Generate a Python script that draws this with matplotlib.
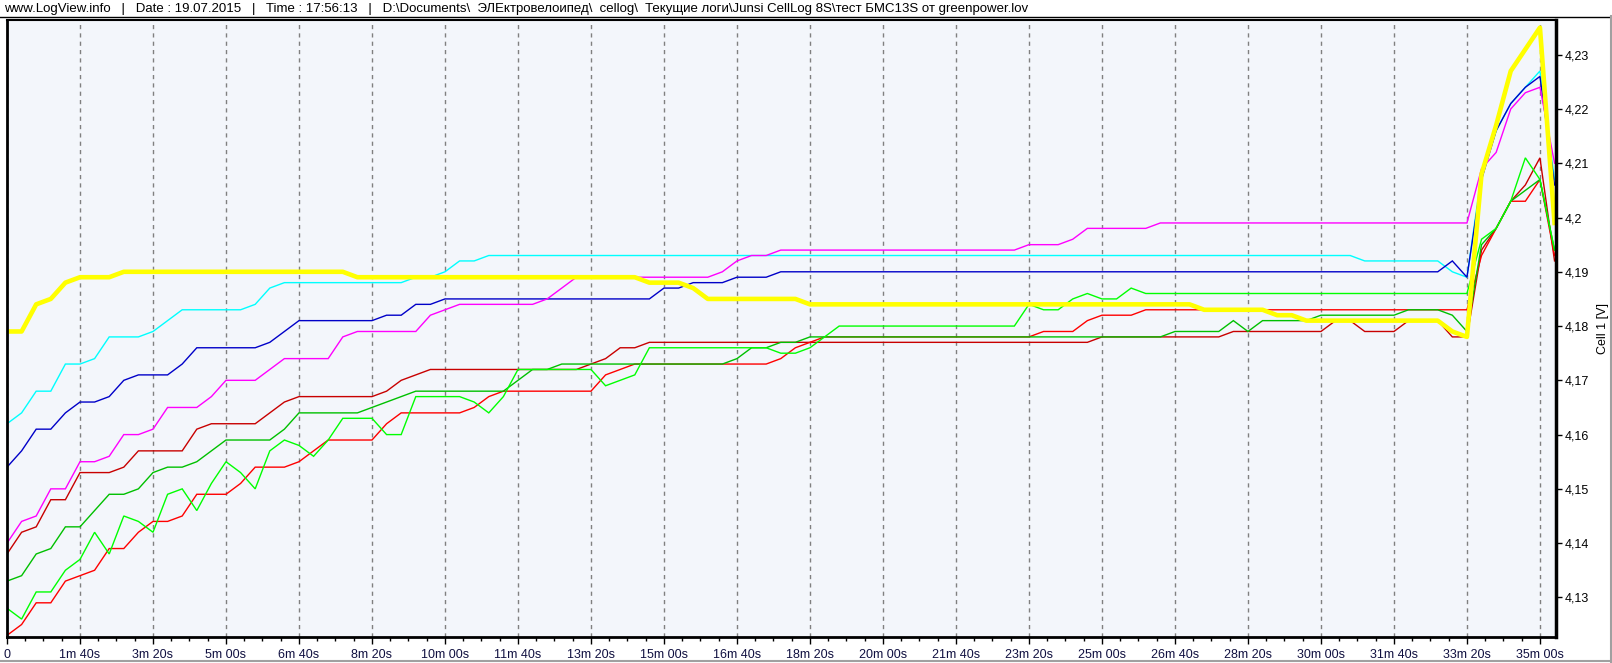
"""
LogView export: Junsi CellLog 8S, 8 cell voltages over ~35 min
"""

import matplotlib
matplotlib.use('Agg')
import matplotlib.pyplot as plt
from matplotlib.ticker import MultipleLocator, FuncFormatter
from matplotlib.lines import Line2D

plt.rcParams['font.family'] = ['Liberation Sans', 'DejaVu Sans']

# Sample times in seconds (logger wrote one row every 20 s)
TIMES = [0, 20, 40, 60, 80, 100, 120, 140, 160, 180,
         200, 220, 240, 260, 280, 300, 320, 340, 360, 380,
         400, 420, 440, 460, 480, 500, 520, 540, 560, 580,
         600, 620, 640, 660, 680, 700, 720, 740, 760, 780,
         800, 820, 840, 860, 880, 900, 920, 940, 960, 980,
         1000, 1020, 1040, 1060, 1080, 1100, 1120, 1140, 1160, 1180,
         1200, 1220, 1240, 1260, 1280, 1300, 1320, 1340, 1360, 1380,
         1400, 1420, 1440, 1460, 1480, 1500, 1520, 1540, 1560, 1580,
         1600, 1620, 1640, 1660, 1680, 1700, 1720, 1740, 1760, 1780,
         1800, 1820, 1840, 1860, 1880, 1900, 1920, 1940, 1960, 1980,
         2000, 2020, 2040, 2060, 2080, 2100, 2120]

# Cell voltages [V]
yellow = [4.179, 4.179, 4.184, 4.185, 4.188, 4.189, 4.189, 4.189, 4.190, 4.190,
          4.190, 4.190, 4.190, 4.190, 4.190, 4.190, 4.190, 4.190, 4.190, 4.190,
          4.190, 4.190, 4.190, 4.190, 4.189, 4.189, 4.189, 4.189, 4.189, 4.189,
          4.189, 4.189, 4.189, 4.189, 4.189, 4.189, 4.189, 4.189, 4.189, 4.189,
          4.189, 4.189, 4.189, 4.189, 4.188, 4.188, 4.188, 4.187, 4.185, 4.185,
          4.185, 4.185, 4.185, 4.185, 4.185, 4.184, 4.184, 4.184, 4.184, 4.184,
          4.184, 4.184, 4.184, 4.184, 4.184, 4.184, 4.184, 4.184, 4.184, 4.184,
          4.184, 4.184, 4.184, 4.184, 4.184, 4.184, 4.184, 4.184, 4.184, 4.184,
          4.184, 4.184, 4.183, 4.183, 4.183, 4.183, 4.183, 4.182, 4.182, 4.181,
          4.181, 4.181, 4.181, 4.181, 4.181, 4.181, 4.181, 4.181, 4.181, 4.179,
          4.178, 4.208, 4.217, 4.227, 4.231, 4.235, 4.199]

cyan = [4.162, 4.164, 4.168, 4.168, 4.173, 4.173, 4.174, 4.178, 4.178, 4.178,
        4.179, 4.181, 4.183, 4.183, 4.183, 4.183, 4.183, 4.184, 4.187, 4.188,
        4.188, 4.188, 4.188, 4.188, 4.188, 4.188, 4.188, 4.188, 4.189, 4.189,
        4.190, 4.192, 4.192, 4.193, 4.193, 4.193, 4.193, 4.193, 4.193, 4.193,
        4.193, 4.193, 4.193, 4.193, 4.193, 4.193, 4.193, 4.193, 4.193, 4.193,
        4.193, 4.193, 4.193, 4.193, 4.193, 4.193, 4.193, 4.193, 4.193, 4.193,
        4.193, 4.193, 4.193, 4.193, 4.193, 4.193, 4.193, 4.193, 4.193, 4.193,
        4.193, 4.193, 4.193, 4.193, 4.193, 4.193, 4.193, 4.193, 4.193, 4.193,
        4.193, 4.193, 4.193, 4.193, 4.193, 4.193, 4.193, 4.193, 4.193, 4.193,
        4.193, 4.193, 4.193, 4.192, 4.192, 4.192, 4.192, 4.192, 4.192, 4.190,
        4.189, 4.208, 4.216, 4.221, 4.224, 4.227, 4.207]

blue = [4.154, 4.157, 4.161, 4.161, 4.164, 4.166, 4.166, 4.167, 4.170, 4.171,
        4.171, 4.171, 4.173, 4.176, 4.176, 4.176, 4.176, 4.176, 4.177, 4.179,
        4.181, 4.181, 4.181, 4.181, 4.181, 4.181, 4.182, 4.182, 4.184, 4.184,
        4.185, 4.185, 4.185, 4.185, 4.185, 4.185, 4.185, 4.185, 4.185, 4.185,
        4.185, 4.185, 4.185, 4.185, 4.185, 4.187, 4.187, 4.188, 4.188, 4.188,
        4.189, 4.189, 4.189, 4.190, 4.190, 4.190, 4.190, 4.190, 4.190, 4.190,
        4.190, 4.190, 4.190, 4.190, 4.190, 4.190, 4.190, 4.190, 4.190, 4.190,
        4.190, 4.190, 4.190, 4.190, 4.190, 4.190, 4.190, 4.190, 4.190, 4.190,
        4.190, 4.190, 4.190, 4.190, 4.190, 4.190, 4.190, 4.190, 4.190, 4.190,
        4.190, 4.190, 4.190, 4.190, 4.190, 4.190, 4.190, 4.190, 4.190, 4.192,
        4.189, 4.207, 4.216, 4.221, 4.224, 4.226, 4.206]

magenta = [4.140, 4.144, 4.145, 4.150, 4.150, 4.155, 4.155, 4.156, 4.160, 4.160,
           4.161, 4.165, 4.165, 4.165, 4.167, 4.170, 4.170, 4.170, 4.172, 4.174,
           4.174, 4.174, 4.174, 4.178, 4.179, 4.179, 4.179, 4.179, 4.179, 4.182,
           4.183, 4.184, 4.184, 4.184, 4.184, 4.184, 4.184, 4.185, 4.187, 4.189,
           4.189, 4.189, 4.189, 4.189, 4.189, 4.189, 4.189, 4.189, 4.189, 4.190,
           4.192, 4.193, 4.193, 4.194, 4.194, 4.194, 4.194, 4.194, 4.194, 4.194,
           4.194, 4.194, 4.194, 4.194, 4.194, 4.194, 4.194, 4.194, 4.194, 4.194,
           4.195, 4.195, 4.195, 4.196, 4.198, 4.198, 4.198, 4.198, 4.198, 4.199,
           4.199, 4.199, 4.199, 4.199, 4.199, 4.199, 4.199, 4.199, 4.199, 4.199,
           4.199, 4.199, 4.199, 4.199, 4.199, 4.199, 4.199, 4.199, 4.199, 4.199,
           4.199, 4.209, 4.212, 4.220, 4.223, 4.224, 4.210]

red_dark = [4.138, 4.142, 4.143, 4.148, 4.148, 4.153, 4.153, 4.153, 4.154, 4.157,
            4.157, 4.157, 4.157, 4.161, 4.162, 4.162, 4.162, 4.162, 4.164, 4.166,
            4.167, 4.167, 4.167, 4.167, 4.167, 4.167, 4.168, 4.170, 4.171, 4.172,
            4.172, 4.172, 4.172, 4.172, 4.172, 4.172, 4.172, 4.172, 4.172, 4.172,
            4.173, 4.174, 4.176, 4.176, 4.177, 4.177, 4.177, 4.177, 4.177, 4.177,
            4.177, 4.177, 4.177, 4.177, 4.177, 4.177, 4.177, 4.177, 4.177, 4.177,
            4.177, 4.177, 4.177, 4.177, 4.177, 4.177, 4.177, 4.177, 4.177, 4.177,
            4.177, 4.177, 4.177, 4.177, 4.177, 4.178, 4.178, 4.178, 4.178, 4.178,
            4.178, 4.178, 4.178, 4.178, 4.179, 4.179, 4.179, 4.179, 4.179, 4.179,
            4.179, 4.181, 4.181, 4.179, 4.179, 4.179, 4.181, 4.181, 4.181, 4.178,
            4.178, 4.194, 4.198, 4.203, 4.206, 4.211, 4.192]

red = [4.123, 4.125, 4.129, 4.129, 4.133, 4.134, 4.135, 4.139, 4.139, 4.142,
       4.144, 4.144, 4.145, 4.149, 4.149, 4.149, 4.151, 4.154, 4.154, 4.154,
       4.155, 4.157, 4.159, 4.159, 4.159, 4.159, 4.162, 4.164, 4.164, 4.164,
       4.164, 4.164, 4.165, 4.167, 4.168, 4.168, 4.168, 4.168, 4.168, 4.168,
       4.168, 4.171, 4.172, 4.173, 4.173, 4.173, 4.173, 4.173, 4.173, 4.173,
       4.173, 4.173, 4.173, 4.174, 4.176, 4.177, 4.178, 4.178, 4.178, 4.178,
       4.178, 4.178, 4.178, 4.178, 4.178, 4.178, 4.178, 4.178, 4.178, 4.178,
       4.178, 4.179, 4.179, 4.179, 4.181, 4.182, 4.182, 4.182, 4.183, 4.183,
       4.183, 4.183, 4.183, 4.183, 4.183, 4.183, 4.183, 4.183, 4.183, 4.183,
       4.183, 4.183, 4.183, 4.183, 4.183, 4.183, 4.183, 4.183, 4.183, 4.183,
       4.183, 4.193, 4.198, 4.203, 4.203, 4.207, 4.193]

green_dark = [4.133, 4.134, 4.138, 4.139, 4.143, 4.143, 4.146, 4.149, 4.149, 4.150,
              4.153, 4.154, 4.154, 4.155, 4.157, 4.159, 4.159, 4.159, 4.159, 4.161,
              4.164, 4.164, 4.164, 4.164, 4.164, 4.165, 4.166, 4.167, 4.168, 4.168,
              4.168, 4.168, 4.168, 4.168, 4.168, 4.170, 4.172, 4.172, 4.173, 4.173,
              4.173, 4.173, 4.173, 4.173, 4.173, 4.173, 4.173, 4.173, 4.173, 4.173,
              4.174, 4.176, 4.176, 4.177, 4.177, 4.178, 4.178, 4.178, 4.178, 4.178,
              4.178, 4.178, 4.178, 4.178, 4.178, 4.178, 4.178, 4.178, 4.178, 4.178,
              4.178, 4.178, 4.178, 4.178, 4.178, 4.178, 4.178, 4.178, 4.178, 4.178,
              4.179, 4.179, 4.179, 4.179, 4.181, 4.179, 4.181, 4.181, 4.181, 4.181,
              4.182, 4.182, 4.182, 4.182, 4.182, 4.182, 4.183, 4.183, 4.183, 4.182,
              4.179, 4.195, 4.198, 4.203, 4.205, 4.207, 4.194]

green = [4.128, 4.126, 4.131, 4.131, 4.135, 4.137, 4.142, 4.138, 4.145, 4.144,
         4.142, 4.149, 4.150, 4.146, 4.151, 4.155, 4.153, 4.150, 4.157, 4.159,
         4.158, 4.156, 4.159, 4.163, 4.163, 4.163, 4.160, 4.160, 4.167, 4.167,
         4.167, 4.167, 4.166, 4.164, 4.167, 4.172, 4.172, 4.172, 4.172, 4.172,
         4.172, 4.169, 4.170, 4.171, 4.176, 4.176, 4.176, 4.176, 4.176, 4.176,
         4.176, 4.176, 4.176, 4.175, 4.175, 4.176, 4.178, 4.180, 4.180, 4.180,
         4.180, 4.180, 4.180, 4.180, 4.180, 4.180, 4.180, 4.180, 4.180, 4.180,
         4.184, 4.183, 4.183, 4.185, 4.186, 4.185, 4.185, 4.187, 4.186, 4.186,
         4.186, 4.186, 4.186, 4.186, 4.186, 4.186, 4.186, 4.186, 4.186, 4.186,
         4.186, 4.186, 4.186, 4.186, 4.186, 4.186, 4.186, 4.186, 4.186, 4.186,
         4.186, 4.196, 4.198, 4.203, 4.211, 4.207, 4.194]

HEADER = ('www.LogView.info   |   Date : 19.07.2015   |   Time : 17:56:13   |   '
          'D:\\Documents\\  ЭЛЕктровелоипед\\  cellog\\  Текущие логи\\Junsi CellLog 8S\\'
          'тест БМС13S от greenpower.lov')


def fmt_time(sec, pos=None):
    sec = int(round(sec))
    if sec == 0:
        return '0'
    return f'{sec // 60}m {sec % 60:02d}s'


def fmt_volt(v, pos=None):
    s = f'{v:.2f}'.rstrip('0').rstrip('.')
    return s.replace('.', ',')


W, H = 1612, 663
fig = plt.figure(figsize=(W / 100, H / 100), dpi=100)
fig.patch.set_facecolor('white')

# plot area in pixel coordinates
left, right, top, bottom = 7, 1556, 20, 637
ax = fig.add_axes([left / W, 1 - bottom / H, (right - left) / W, (bottom - top) / H])
ax.set_facecolor('#f3f6fb')

# thin lines first, thick yellow on top
series = [
    (cyan, '#00ffff'),
    (blue, '#0000c8'),
    (magenta, '#ff00ff'),
    (red_dark, '#c80000'),
    (red, '#ff0000'),
    (green_dark, '#00c000'),
    (green, '#00ff00'),
]
for vals, col in series:
    ax.plot(TIMES, vals, color=col, lw=1.0, solid_joinstyle='miter')
ax.plot(TIMES, yellow, color='#ffff00', lw=3.3, solid_joinstyle='round')

ax.set_xlim(0, 2122)
ax.set_ylim(4.1227, 4.2364)

# x axis
ax.xaxis.set_major_locator(MultipleLocator(100))
ax.xaxis.set_minor_locator(MultipleLocator(25))
ax.xaxis.set_major_formatter(FuncFormatter(fmt_time))
ax.grid(axis='x', which='major', color='#808080', linestyle=(0, (3, 3)), lw=1.0)
ax.tick_params(axis='x', which='major', length=5, width=1, direction='out',
               labelsize=9, labelcolor='#101040', pad=4)
ax.tick_params(axis='x', which='minor', length=3, width=1, direction='out')

# y axis on the right
ax.yaxis.tick_right()
ax.yaxis.set_label_position('right')
ax.yaxis.set_major_locator(MultipleLocator(0.01))
ax.yaxis.set_major_formatter(FuncFormatter(fmt_volt))
ax.tick_params(axis='y', which='major', length=4, width=1, direction='out',
               labelsize=9, pad=2)
ax.set_ylabel('Cell 1 [V]', fontsize=9, labelpad=6)

for side in ['left', 'bottom', 'right']:
    ax.spines[side].set_linewidth(2.0)
ax.spines['right'].set_linewidth(2.5)
ax.spines['top'].set_linewidth(1.5)

# header line
fig.text(4 / W, 1 - 9 / H, HEADER, fontsize=9.5, va='center', ha='left')
fig.add_artist(Line2D([0, 1], [1 - 16.5 / H, 1 - 16.5 / H], color='black', lw=1.0))

# window frame
fig.add_artist(Line2D([0, 1], [1 - 661 / H, 1 - 661 / H], color='#a0a0a0', lw=1.5))
fig.add_artist(Line2D([1 - 1 / W, 1 - 1 / W], [0, 1 - 16 / H], color='#a0a0a0', lw=1.5))

fig.savefig('out.png', dpi=100, facecolor='white')
